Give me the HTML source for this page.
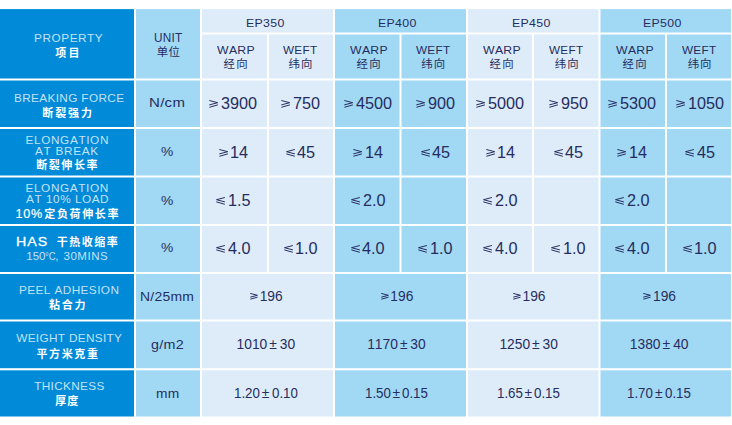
<!DOCTYPE html>
<html><head><meta charset="utf-8"><title>Specification</title>
<style>
html,body{margin:0;padding:0;background:#fff;}
body{width:732px;height:425px;position:relative;overflow:hidden;font-family:"Liberation Sans",sans-serif;color:#262c5e;font-kerning:none;}
.c{position:absolute;}
.a{position:absolute;display:block;}
.t{line-height:20px;height:20px;white-space:pre;transform-origin:0 0;}
.k{font-family:"Liberation Sans","Noto Sans CJK SC",sans-serif;}
.kb{font-family:"Liberation Sans","Noto Sans CJK SC",sans-serif;font-weight:bold;color:#fff;font-size:11px;}
svg{overflow:visible}
</style></head><body>
<svg class="a" style="left:0;top:0" width="732" height="425" viewBox="0 0 732 425"><rect x="0" y="9.1" width="134" height="69.4" fill="#008ad8"/><rect x="136" y="9.1" width="64" height="69.4" fill="#a1d9f5"/><rect x="0" y="80.5" width="134" height="46.5" fill="#008ad8"/><rect x="136" y="80.5" width="64" height="46.5" fill="#a1d9f5"/><rect x="0" y="129" width="134" height="46.5" fill="#008ad8"/><rect x="136" y="129" width="64" height="46.5" fill="#a1d9f5"/><rect x="0" y="177.5" width="134" height="46.5" fill="#008ad8"/><rect x="136" y="177.5" width="64" height="46.5" fill="#a1d9f5"/><rect x="0" y="226" width="134" height="46" fill="#008ad8"/><rect x="136" y="226" width="64" height="46" fill="#a1d9f5"/><rect x="0" y="274" width="134" height="45.5" fill="#008ad8"/><rect x="136" y="274" width="64" height="45.5" fill="#a1d9f5"/><rect x="0" y="321.5" width="134" height="46.7" fill="#008ad8"/><rect x="136" y="321.5" width="64" height="46.7" fill="#a1d9f5"/><rect x="0" y="370.3" width="134" height="46.2" fill="#008ad8"/><rect x="136" y="370.3" width="64" height="46.2" fill="#a1d9f5"/><rect x="202" y="9.1" width="131" height="23.4" fill="#deecfa"/><rect x="202" y="34.5" width="65" height="44" fill="#deecfa"/><rect x="269" y="34.5" width="64" height="44" fill="#deecfa"/><rect x="202" y="80.5" width="65" height="46.5" fill="#deecfa"/><rect x="269" y="80.5" width="64" height="46.5" fill="#deecfa"/><rect x="202" y="129" width="65" height="46.5" fill="#deecfa"/><rect x="269" y="129" width="64" height="46.5" fill="#deecfa"/><rect x="202" y="177.5" width="65" height="46.5" fill="#deecfa"/><rect x="269" y="177.5" width="64" height="46.5" fill="#deecfa"/><rect x="202" y="226" width="65" height="46" fill="#deecfa"/><rect x="269" y="226" width="64" height="46" fill="#deecfa"/><rect x="202" y="274" width="131" height="45.5" fill="#deecfa"/><rect x="202" y="321.5" width="131" height="46.7" fill="#deecfa"/><rect x="202" y="370.3" width="131" height="46.2" fill="#deecfa"/><rect x="335" y="9.1" width="131" height="23.4" fill="#a1d9f5"/><rect x="335" y="34.5" width="64.5" height="44" fill="#a1d9f5"/><rect x="401.5" y="34.5" width="64.5" height="44" fill="#a1d9f5"/><rect x="335" y="80.5" width="64.5" height="46.5" fill="#a1d9f5"/><rect x="401.5" y="80.5" width="64.5" height="46.5" fill="#a1d9f5"/><rect x="335" y="129" width="64.5" height="46.5" fill="#a1d9f5"/><rect x="401.5" y="129" width="64.5" height="46.5" fill="#a1d9f5"/><rect x="335" y="177.5" width="64.5" height="46.5" fill="#a1d9f5"/><rect x="401.5" y="177.5" width="64.5" height="46.5" fill="#a1d9f5"/><rect x="335" y="226" width="64.5" height="46" fill="#a1d9f5"/><rect x="401.5" y="226" width="64.5" height="46" fill="#a1d9f5"/><rect x="335" y="274" width="131" height="45.5" fill="#a1d9f5"/><rect x="335" y="321.5" width="131" height="46.7" fill="#a1d9f5"/><rect x="335" y="370.3" width="131" height="46.2" fill="#a1d9f5"/><rect x="468" y="9.1" width="130.5" height="23.4" fill="#deecfa"/><rect x="468" y="34.5" width="64" height="44" fill="#deecfa"/><rect x="534" y="34.5" width="64.5" height="44" fill="#deecfa"/><rect x="468" y="80.5" width="64" height="46.5" fill="#deecfa"/><rect x="534" y="80.5" width="64.5" height="46.5" fill="#deecfa"/><rect x="468" y="129" width="64" height="46.5" fill="#deecfa"/><rect x="534" y="129" width="64.5" height="46.5" fill="#deecfa"/><rect x="468" y="177.5" width="64" height="46.5" fill="#deecfa"/><rect x="534" y="177.5" width="64.5" height="46.5" fill="#deecfa"/><rect x="468" y="226" width="64" height="46" fill="#deecfa"/><rect x="534" y="226" width="64.5" height="46" fill="#deecfa"/><rect x="468" y="274" width="130.5" height="45.5" fill="#deecfa"/><rect x="468" y="321.5" width="130.5" height="46.7" fill="#deecfa"/><rect x="468" y="370.3" width="130.5" height="46.2" fill="#deecfa"/><rect x="600.5" y="9.1" width="130.5" height="23.4" fill="#a1d9f5"/><rect x="600.5" y="34.5" width="64.5" height="44" fill="#a1d9f5"/><rect x="667" y="34.5" width="64" height="44" fill="#a1d9f5"/><rect x="600.5" y="80.5" width="64.5" height="46.5" fill="#a1d9f5"/><rect x="667" y="80.5" width="64" height="46.5" fill="#a1d9f5"/><rect x="600.5" y="129" width="64.5" height="46.5" fill="#a1d9f5"/><rect x="667" y="129" width="64" height="46.5" fill="#a1d9f5"/><rect x="600.5" y="177.5" width="64.5" height="46.5" fill="#a1d9f5"/><rect x="667" y="177.5" width="64" height="46.5" fill="#a1d9f5"/><rect x="600.5" y="226" width="64.5" height="46" fill="#a1d9f5"/><rect x="667" y="226" width="64" height="46" fill="#a1d9f5"/><rect x="600.5" y="274" width="130.5" height="45.5" fill="#a1d9f5"/><rect x="600.5" y="321.5" width="130.5" height="46.7" fill="#a1d9f5"/><rect x="600.5" y="370.3" width="130.5" height="46.2" fill="#a1d9f5"/></svg>
<svg class="a" style="left:209.30px;top:100.05px" width="9.20" height="7.80" viewBox="0 0 9.2 7.8" fill="none" stroke="#262c5e" stroke-width="1.000" stroke-linejoin="round"><path d="M0.3,0.5 L8.7,2.7 L0.3,4.9 M8.9,4.85 L0.4,7.3"/></svg><span class="a t" id="t0" style="left:221.18px;top:94px;font-size:15.7px;letter-spacing:0.000px;color:#262c5e;transform:scaleX(1.0350)">3900</span><svg class="a" style="left:281.23px;top:100.05px" width="9.20" height="7.80" viewBox="0 0 9.2 7.8" fill="none" stroke="#262c5e" stroke-width="1.000" stroke-linejoin="round"><path d="M0.3,0.5 L8.7,2.7 L0.3,4.9 M8.9,4.85 L0.4,7.3"/></svg><span class="a t" id="t1" style="left:292.90px;top:94px;font-size:15.7px;letter-spacing:0.000px;color:#262c5e;transform:scaleX(1.0350)">750</span><svg class="a" style="left:218.57px;top:149.05px" width="9.20" height="7.80" viewBox="0 0 9.2 7.8" fill="none" stroke="#262c5e" stroke-width="1.000" stroke-linejoin="round"><path d="M0.3,0.5 L8.7,2.7 L0.3,4.9 M8.9,4.85 L0.4,7.3"/></svg><span class="a t" id="t2" style="left:229.83px;top:143px;font-size:15.7px;letter-spacing:0.000px;color:#262c5e;transform:scaleX(1.0350)">14</span><svg class="a" style="left:285.94px;top:149.05px" width="9.20" height="7.80" viewBox="0 0 9.2 7.8" fill="none" stroke="#262c5e" stroke-width="1.000" stroke-linejoin="round"><path d="M8.9,0.5 L0.5,2.7 L8.9,4.9 M0.3,4.85 L8.8,7.3"/></svg><span class="a t" id="t3" style="left:297.27px;top:143px;font-size:15.7px;letter-spacing:0.000px;color:#262c5e;transform:scaleX(1.0350)">45</span><svg class="a" style="left:216.42px;top:197.05px" width="9.20" height="7.80" viewBox="0 0 9.2 7.8" fill="none" stroke="#262c5e" stroke-width="1.000" stroke-linejoin="round"><path d="M8.9,0.5 L0.5,2.7 L8.9,4.9 M0.3,4.85 L8.8,7.3"/></svg><span class="a t" id="t4" style="left:227.68px;top:191px;font-size:15.7px;letter-spacing:0.000px;color:#262c5e;transform:scaleX(1.0350)">1.5</span><svg class="a" style="left:216.36px;top:245.05px" width="9.20" height="7.80" viewBox="0 0 9.2 7.8" fill="none" stroke="#262c5e" stroke-width="1.000" stroke-linejoin="round"><path d="M8.9,0.5 L0.5,2.7 L8.9,4.9 M0.3,4.85 L8.8,7.3"/></svg><span class="a t" id="t5" style="left:227.69px;top:239px;font-size:15.7px;letter-spacing:0.000px;color:#262c5e;transform:scaleX(1.0350)">4.0</span><svg class="a" style="left:283.69px;top:245.05px" width="9.20" height="7.80" viewBox="0 0 9.2 7.8" fill="none" stroke="#262c5e" stroke-width="1.000" stroke-linejoin="round"><path d="M8.9,0.5 L0.5,2.7 L8.9,4.9 M0.3,4.85 L8.8,7.3"/></svg><span class="a t" id="t6" style="left:294.95px;top:239px;font-size:15.7px;letter-spacing:0.000px;color:#262c5e;transform:scaleX(1.0350)">1.0</span><svg class="a" style="left:250.09px;top:293.38px" width="7.84" height="6.64" viewBox="0 0 9.2 7.8" fill="none" stroke="#262c5e" stroke-width="1.174" stroke-linejoin="round"><path d="M0.3,0.5 L8.7,2.7 L0.3,4.9 M8.9,4.85 L0.4,7.3"/></svg><span class="a t" id="t7" style="left:259.69px;top:287px;font-size:13.8px;letter-spacing:0.000px;color:#262c5e;transform:scaleX(1.0000)">196</span><span class="a t" id="t8" style="left:236.60px;top:335px;font-size:13.8px;letter-spacing:0.000px;color:#262c5e">1010</span><span class="a t" id="t9" style="left:269.32px;top:335px;font-size:13.8px;letter-spacing:0.000px;color:#262c5e">±</span><span class="a t" id="t10" style="left:279.74px;top:335px;font-size:13.8px;letter-spacing:-0.000px;color:#262c5e">30</span><span class="a t" id="t11" style="left:234.10px;top:384px;font-size:13.8px;letter-spacing:0.000px;color:#262c5e;transform:scaleX(0.9650)">1.20</span><span class="a t" id="t12" style="left:261.76px;top:384px;font-size:13.8px;letter-spacing:0.000px;color:#262c5e">±</span><span class="a t" id="t13" style="left:271.69px;top:384px;font-size:13.8px;letter-spacing:0.000px;color:#262c5e;transform:scaleX(0.9650)">0.10</span><svg class="a" style="left:344.38px;top:100.05px" width="9.20" height="7.80" viewBox="0 0 9.2 7.8" fill="none" stroke="#262c5e" stroke-width="1.000" stroke-linejoin="round"><path d="M0.3,0.5 L8.7,2.7 L0.3,4.9 M8.9,4.85 L0.4,7.3"/></svg><span class="a t" id="t14" style="left:355.71px;top:94px;font-size:15.7px;letter-spacing:0.000px;color:#262c5e;transform:scaleX(1.0350)">4500</span><svg class="a" style="left:415.99px;top:100.05px" width="9.20" height="7.80" viewBox="0 0 9.2 7.8" fill="none" stroke="#262c5e" stroke-width="1.000" stroke-linejoin="round"><path d="M0.3,0.5 L8.7,2.7 L0.3,4.9 M8.9,4.85 L0.4,7.3"/></svg><span class="a t" id="t15" style="left:427.73px;top:94px;font-size:15.7px;letter-spacing:0.000px;color:#262c5e;transform:scaleX(1.0350)">900</span><svg class="a" style="left:353.37px;top:149.05px" width="9.20" height="7.80" viewBox="0 0 9.2 7.8" fill="none" stroke="#262c5e" stroke-width="1.000" stroke-linejoin="round"><path d="M0.3,0.5 L8.7,2.7 L0.3,4.9 M8.9,4.85 L0.4,7.3"/></svg><span class="a t" id="t16" style="left:364.63px;top:143px;font-size:15.7px;letter-spacing:0.000px;color:#262c5e;transform:scaleX(1.0350)">14</span><svg class="a" style="left:420.74px;top:149.05px" width="9.20" height="7.80" viewBox="0 0 9.2 7.8" fill="none" stroke="#262c5e" stroke-width="1.000" stroke-linejoin="round"><path d="M8.9,0.5 L0.5,2.7 L8.9,4.9 M0.3,4.85 L8.8,7.3"/></svg><span class="a t" id="t17" style="left:432.07px;top:143px;font-size:15.7px;letter-spacing:0.000px;color:#262c5e;transform:scaleX(1.0350)">45</span><svg class="a" style="left:350.98px;top:197.05px" width="9.20" height="7.80" viewBox="0 0 9.2 7.8" fill="none" stroke="#262c5e" stroke-width="1.000" stroke-linejoin="round"><path d="M8.9,0.5 L0.5,2.7 L8.9,4.9 M0.3,4.85 L8.8,7.3"/></svg><span class="a t" id="t18" style="left:362.66px;top:191px;font-size:15.7px;letter-spacing:0.000px;color:#262c5e;transform:scaleX(1.0350)">2.0</span><svg class="a" style="left:351.16px;top:245.05px" width="9.20" height="7.80" viewBox="0 0 9.2 7.8" fill="none" stroke="#262c5e" stroke-width="1.000" stroke-linejoin="round"><path d="M8.9,0.5 L0.5,2.7 L8.9,4.9 M0.3,4.85 L8.8,7.3"/></svg><span class="a t" id="t19" style="left:362.49px;top:239px;font-size:15.7px;letter-spacing:0.000px;color:#262c5e;transform:scaleX(1.0350)">4.0</span><svg class="a" style="left:418.49px;top:245.05px" width="9.20" height="7.80" viewBox="0 0 9.2 7.8" fill="none" stroke="#262c5e" stroke-width="1.000" stroke-linejoin="round"><path d="M8.9,0.5 L0.5,2.7 L8.9,4.9 M0.3,4.85 L8.8,7.3"/></svg><span class="a t" id="t20" style="left:429.75px;top:239px;font-size:15.7px;letter-spacing:0.000px;color:#262c5e;transform:scaleX(1.0350)">1.0</span><svg class="a" style="left:380.69px;top:293.38px" width="7.84" height="6.64" viewBox="0 0 9.2 7.8" fill="none" stroke="#262c5e" stroke-width="1.174" stroke-linejoin="round"><path d="M0.3,0.5 L8.7,2.7 L0.3,4.9 M8.9,4.85 L0.4,7.3"/></svg><span class="a t" id="t21" style="left:390.29px;top:287px;font-size:13.8px;letter-spacing:0.000px;color:#262c5e;transform:scaleX(1.0000)">196</span><span class="a t" id="t22" style="left:367.20px;top:335px;font-size:13.8px;letter-spacing:0.000px;color:#262c5e">1170</span><span class="a t" id="t23" style="left:399.92px;top:335px;font-size:13.8px;letter-spacing:0.000px;color:#262c5e">±</span><span class="a t" id="t24" style="left:410.34px;top:335px;font-size:13.8px;letter-spacing:0.000px;color:#262c5e">30</span><span class="a t" id="t25" style="left:364.72px;top:384px;font-size:13.8px;letter-spacing:0.000px;color:#262c5e;transform:scaleX(0.9650)">1.50</span><span class="a t" id="t26" style="left:392.38px;top:384px;font-size:13.8px;letter-spacing:0.000px;color:#262c5e">±</span><span class="a t" id="t27" style="left:402.30px;top:384px;font-size:13.8px;letter-spacing:0.000px;color:#262c5e;transform:scaleX(0.9650)">0.15</span><svg class="a" style="left:476.42px;top:100.05px" width="9.20" height="7.80" viewBox="0 0 9.2 7.8" fill="none" stroke="#262c5e" stroke-width="1.000" stroke-linejoin="round"><path d="M0.3,0.5 L8.7,2.7 L0.3,4.9 M8.9,4.85 L0.4,7.3"/></svg><span class="a t" id="t28" style="left:488.27px;top:94px;font-size:15.7px;letter-spacing:0.000px;color:#262c5e;transform:scaleX(1.0350)">5000</span><svg class="a" style="left:548.79px;top:100.05px" width="9.20" height="7.80" viewBox="0 0 9.2 7.8" fill="none" stroke="#262c5e" stroke-width="1.000" stroke-linejoin="round"><path d="M0.3,0.5 L8.7,2.7 L0.3,4.9 M8.9,4.85 L0.4,7.3"/></svg><span class="a t" id="t29" style="left:560.53px;top:94px;font-size:15.7px;letter-spacing:0.000px;color:#262c5e;transform:scaleX(1.0350)">950</span><svg class="a" style="left:485.67px;top:149.05px" width="9.20" height="7.80" viewBox="0 0 9.2 7.8" fill="none" stroke="#262c5e" stroke-width="1.000" stroke-linejoin="round"><path d="M0.3,0.5 L8.7,2.7 L0.3,4.9 M8.9,4.85 L0.4,7.3"/></svg><span class="a t" id="t30" style="left:496.93px;top:143px;font-size:15.7px;letter-spacing:0.000px;color:#262c5e;transform:scaleX(1.0350)">14</span><svg class="a" style="left:553.54px;top:149.05px" width="9.20" height="7.80" viewBox="0 0 9.2 7.8" fill="none" stroke="#262c5e" stroke-width="1.000" stroke-linejoin="round"><path d="M8.9,0.5 L0.5,2.7 L8.9,4.9 M0.3,4.85 L8.8,7.3"/></svg><span class="a t" id="t31" style="left:564.87px;top:143px;font-size:15.7px;letter-spacing:0.000px;color:#262c5e;transform:scaleX(1.0350)">45</span><svg class="a" style="left:483.28px;top:197.05px" width="9.20" height="7.80" viewBox="0 0 9.2 7.8" fill="none" stroke="#262c5e" stroke-width="1.000" stroke-linejoin="round"><path d="M8.9,0.5 L0.5,2.7 L8.9,4.9 M0.3,4.85 L8.8,7.3"/></svg><span class="a t" id="t32" style="left:494.96px;top:191px;font-size:15.7px;letter-spacing:0.000px;color:#262c5e;transform:scaleX(1.0350)">2.0</span><svg class="a" style="left:483.46px;top:245.05px" width="9.20" height="7.80" viewBox="0 0 9.2 7.8" fill="none" stroke="#262c5e" stroke-width="1.000" stroke-linejoin="round"><path d="M8.9,0.5 L0.5,2.7 L8.9,4.9 M0.3,4.85 L8.8,7.3"/></svg><span class="a t" id="t33" style="left:494.79px;top:239px;font-size:15.7px;letter-spacing:0.000px;color:#262c5e;transform:scaleX(1.0350)">4.0</span><svg class="a" style="left:551.29px;top:245.05px" width="9.20" height="7.80" viewBox="0 0 9.2 7.8" fill="none" stroke="#262c5e" stroke-width="1.000" stroke-linejoin="round"><path d="M8.9,0.5 L0.5,2.7 L8.9,4.9 M0.3,4.85 L8.8,7.3"/></svg><span class="a t" id="t34" style="left:562.55px;top:239px;font-size:15.7px;letter-spacing:0.000px;color:#262c5e;transform:scaleX(1.0350)">1.0</span><svg class="a" style="left:512.89px;top:293.38px" width="7.84" height="6.64" viewBox="0 0 9.2 7.8" fill="none" stroke="#262c5e" stroke-width="1.174" stroke-linejoin="round"><path d="M0.3,0.5 L8.7,2.7 L0.3,4.9 M8.9,4.85 L0.4,7.3"/></svg><span class="a t" id="t35" style="left:522.49px;top:287px;font-size:13.8px;letter-spacing:0.000px;color:#262c5e;transform:scaleX(1.0000)">196</span><span class="a t" id="t36" style="left:499.40px;top:335px;font-size:13.8px;letter-spacing:0.000px;color:#262c5e">1250</span><span class="a t" id="t37" style="left:532.12px;top:335px;font-size:13.8px;letter-spacing:0.000px;color:#262c5e">±</span><span class="a t" id="t38" style="left:542.54px;top:335px;font-size:13.8px;letter-spacing:0.000px;color:#262c5e">30</span><span class="a t" id="t39" style="left:496.94px;top:384px;font-size:13.8px;letter-spacing:0.000px;color:#262c5e;transform:scaleX(0.9650)">1.65</span><span class="a t" id="t40" style="left:524.56px;top:384px;font-size:13.8px;letter-spacing:0.000px;color:#262c5e">±</span><span class="a t" id="t41" style="left:534.49px;top:384px;font-size:13.8px;letter-spacing:0.000px;color:#262c5e;transform:scaleX(0.9650)">0.15</span><svg class="a" style="left:608.22px;top:100.05px" width="9.20" height="7.80" viewBox="0 0 9.2 7.8" fill="none" stroke="#262c5e" stroke-width="1.000" stroke-linejoin="round"><path d="M0.3,0.5 L8.7,2.7 L0.3,4.9 M8.9,4.85 L0.4,7.3"/></svg><span class="a t" id="t42" style="left:620.07px;top:94px;font-size:15.7px;letter-spacing:0.000px;color:#262c5e;transform:scaleX(1.0350)">5300</span><svg class="a" style="left:676.41px;top:100.05px" width="9.20" height="7.80" viewBox="0 0 9.2 7.8" fill="none" stroke="#262c5e" stroke-width="1.000" stroke-linejoin="round"><path d="M0.3,0.5 L8.7,2.7 L0.3,4.9 M8.9,4.85 L0.4,7.3"/></svg><span class="a t" id="t43" style="left:687.67px;top:94px;font-size:15.7px;letter-spacing:0.000px;color:#262c5e;transform:scaleX(1.0350)">1050</span><svg class="a" style="left:617.47px;top:149.05px" width="9.20" height="7.80" viewBox="0 0 9.2 7.8" fill="none" stroke="#262c5e" stroke-width="1.000" stroke-linejoin="round"><path d="M0.3,0.5 L8.7,2.7 L0.3,4.9 M8.9,4.85 L0.4,7.3"/></svg><span class="a t" id="t44" style="left:628.73px;top:143px;font-size:15.7px;letter-spacing:0.000px;color:#262c5e;transform:scaleX(1.0350)">14</span><svg class="a" style="left:685.44px;top:149.05px" width="9.20" height="7.80" viewBox="0 0 9.2 7.8" fill="none" stroke="#262c5e" stroke-width="1.000" stroke-linejoin="round"><path d="M8.9,0.5 L0.5,2.7 L8.9,4.9 M0.3,4.85 L8.8,7.3"/></svg><span class="a t" id="t45" style="left:696.77px;top:143px;font-size:15.7px;letter-spacing:0.000px;color:#262c5e;transform:scaleX(1.0350)">45</span><svg class="a" style="left:615.08px;top:197.05px" width="9.20" height="7.80" viewBox="0 0 9.2 7.8" fill="none" stroke="#262c5e" stroke-width="1.000" stroke-linejoin="round"><path d="M8.9,0.5 L0.5,2.7 L8.9,4.9 M0.3,4.85 L8.8,7.3"/></svg><span class="a t" id="t46" style="left:626.76px;top:191px;font-size:15.7px;letter-spacing:0.000px;color:#262c5e;transform:scaleX(1.0350)">2.0</span><svg class="a" style="left:615.26px;top:245.05px" width="9.20" height="7.80" viewBox="0 0 9.2 7.8" fill="none" stroke="#262c5e" stroke-width="1.000" stroke-linejoin="round"><path d="M8.9,0.5 L0.5,2.7 L8.9,4.9 M0.3,4.85 L8.8,7.3"/></svg><span class="a t" id="t47" style="left:626.59px;top:239px;font-size:15.7px;letter-spacing:0.000px;color:#262c5e;transform:scaleX(1.0350)">4.0</span><svg class="a" style="left:683.19px;top:245.05px" width="9.20" height="7.80" viewBox="0 0 9.2 7.8" fill="none" stroke="#262c5e" stroke-width="1.000" stroke-linejoin="round"><path d="M8.9,0.5 L0.5,2.7 L8.9,4.9 M0.3,4.85 L8.8,7.3"/></svg><span class="a t" id="t48" style="left:694.45px;top:239px;font-size:15.7px;letter-spacing:0.000px;color:#262c5e;transform:scaleX(1.0350)">1.0</span><svg class="a" style="left:643.39px;top:293.38px" width="7.84" height="6.64" viewBox="0 0 9.2 7.8" fill="none" stroke="#262c5e" stroke-width="1.174" stroke-linejoin="round"><path d="M0.3,0.5 L8.7,2.7 L0.3,4.9 M8.9,4.85 L0.4,7.3"/></svg><span class="a t" id="t49" style="left:652.99px;top:287px;font-size:13.8px;letter-spacing:0.000px;color:#262c5e;transform:scaleX(1.0000)">196</span><span class="a t" id="t50" style="left:629.79px;top:335px;font-size:13.8px;letter-spacing:0.000px;color:#262c5e">1380</span><span class="a t" id="t51" style="left:662.52px;top:335px;font-size:13.8px;letter-spacing:0.000px;color:#262c5e">±</span><span class="a t" id="t52" style="left:673.14px;top:335px;font-size:13.8px;letter-spacing:0.000px;color:#262c5e">40</span><span class="a t" id="t53" style="left:627.42px;top:384px;font-size:13.8px;letter-spacing:0.000px;color:#262c5e;transform:scaleX(0.9650)">1.70</span><span class="a t" id="t54" style="left:655.08px;top:384px;font-size:13.8px;letter-spacing:0.000px;color:#262c5e">±</span><span class="a t" id="t55" style="left:665.00px;top:384px;font-size:13.8px;letter-spacing:0.000px;color:#262c5e;transform:scaleX(0.9650)">0.15</span><span class="a t" id="t56" style="left:149.47px;top:93px;font-size:13.2px;letter-spacing:0.250px;color:#262c5e;transform:scaleX(1.1388)">N/cm</span><span class="a t" id="t57" style="left:161.11px;top:142px;font-size:13.2px;letter-spacing:0.000px;color:#262c5e;transform:scaleX(1.0467)">%</span><span class="a t" id="t58" style="left:161.11px;top:191px;font-size:13.2px;letter-spacing:0.000px;color:#262c5e;transform:scaleX(1.0467)">%</span><span class="a t" id="t59" style="left:161.11px;top:238px;font-size:13.2px;letter-spacing:0.000px;color:#262c5e;transform:scaleX(1.0467)">%</span><span class="a t" id="t60" style="left:140.16px;top:287px;font-size:13.2px;letter-spacing:0.250px;color:#262c5e;transform:scaleX(1.0555)">N/25mm</span><span class="a t" id="t61" style="left:151.00px;top:335px;font-size:13.2px;letter-spacing:0.250px;color:#262c5e;transform:scaleX(1.0839)">g/m2</span><span class="a t" id="t62" style="left:155.88px;top:384px;font-size:13.2px;letter-spacing:0.250px;color:#262c5e;transform:scaleX(1.0442)">mm</span><span class="a t" id="t63" style="left:153.59px;top:28px;font-size:12.6px;letter-spacing:0.300px;color:#262c5e;transform:scaleX(0.9334)">UNIT</span><span class="a t k" style="left:156.82px;top:41.90px;font-size:11.4px;letter-spacing:0.30px;color:#262c5e">单位</span><span class="a t" id="t64" style="left:246.49px;top:13px;font-size:11.8px;letter-spacing:0.300px;color:#262c5e;transform:scaleX(1.0455)">EP350</span><span class="a t" id="t65" style="left:216.85px;top:40px;font-size:11.8px;letter-spacing:0.300px;color:#262c5e;transform:scaleX(1.0386)">WARP</span><span class="a t" id="t66" style="left:282.65px;top:40px;font-size:11.8px;letter-spacing:0.300px;color:#262c5e;transform:scaleX(0.9941)">WEFT</span><span class="a t k" style="left:223.60px;top:54.09px;font-size:11.4px;letter-spacing:1.31px;color:#262c5e">经向</span><span class="a t k" style="left:288.45px;top:54.09px;font-size:11.4px;letter-spacing:1.07px;color:#262c5e">纬向</span><span class="a t" id="t67" style="left:378.49px;top:13px;font-size:11.8px;letter-spacing:0.300px;color:#262c5e;transform:scaleX(1.0455)">EP400</span><span class="a t" id="t68" style="left:349.85px;top:40px;font-size:11.8px;letter-spacing:0.300px;color:#262c5e;transform:scaleX(1.0386)">WARP</span><span class="a t" id="t69" style="left:415.55px;top:40px;font-size:11.8px;letter-spacing:0.300px;color:#262c5e;transform:scaleX(0.9941)">WEFT</span><span class="a t k" style="left:356.60px;top:54.09px;font-size:11.4px;letter-spacing:1.31px;color:#262c5e">经向</span><span class="a t k" style="left:421.35px;top:54.09px;font-size:11.4px;letter-spacing:1.07px;color:#262c5e">纬向</span><span class="a t" id="t70" style="left:511.59px;top:13px;font-size:11.8px;letter-spacing:0.300px;color:#262c5e;transform:scaleX(1.0455)">EP450</span><span class="a t" id="t71" style="left:482.70px;top:40px;font-size:11.8px;letter-spacing:0.300px;color:#262c5e;transform:scaleX(1.0386)">WARP</span><span class="a t" id="t72" style="left:549.05px;top:40px;font-size:11.8px;letter-spacing:0.300px;color:#262c5e;transform:scaleX(0.9941)">WEFT</span><span class="a t k" style="left:489.45px;top:54.09px;font-size:11.4px;letter-spacing:1.31px;color:#262c5e">经向</span><span class="a t k" style="left:554.85px;top:54.09px;font-size:11.4px;letter-spacing:1.07px;color:#262c5e">纬向</span><span class="a t" id="t73" style="left:643.34px;top:13px;font-size:11.8px;letter-spacing:0.300px;color:#262c5e;transform:scaleX(1.0455)">EP500</span><span class="a t" id="t74" style="left:615.85px;top:40px;font-size:11.8px;letter-spacing:0.300px;color:#262c5e;transform:scaleX(1.0386)">WARP</span><span class="a t" id="t75" style="left:681.85px;top:40px;font-size:11.8px;letter-spacing:0.300px;color:#262c5e;transform:scaleX(0.9941)">WEFT</span><span class="a t k" style="left:622.60px;top:54.09px;font-size:11.4px;letter-spacing:1.31px;color:#262c5e">经向</span><span class="a t k" style="left:687.65px;top:54.09px;font-size:11.4px;letter-spacing:1.07px;color:#262c5e">纬向</span><span class="a t" id="t76" style="left:34.03px;top:28px;font-size:11.8px;letter-spacing:0.545px;color:#c4e2f6">PROPERTY</span><span class="a t kb" style="left:55.29px;top:43.14px;letter-spacing:2.31px">项目</span><span class="a t" id="t77" style="left:13.93px;top:88px;font-size:11.8px;letter-spacing:0.355px;color:#c4e2f6">BREAKING FORCE</span><span class="a t kb" style="left:42.35px;top:102.50px;letter-spacing:1.86px">断裂强力</span><span class="a t" id="t78" style="left:25.53px;top:130px;font-size:11.8px;letter-spacing:0.618px;color:#c4e2f6">ELONGATION</span><span class="a t" id="t79" style="left:34.98px;top:141px;font-size:11.8px;letter-spacing:0.685px;color:#c4e2f6">AT BREAK</span><span class="a t kb" style="left:36.25px;top:155.36px;letter-spacing:1.55px">断裂伸长率</span><span class="a t" id="t80" style="left:25.43px;top:178px;font-size:11.8px;letter-spacing:0.618px;color:#c4e2f6">ELONGATION</span><span class="a t" id="t81" style="left:26.08px;top:189px;font-size:11.8px;letter-spacing:0.520px;color:#c4e2f6">AT 10% LOAD</span><span class="a t" id="t82" style="left:15.39px;top:204px;font-size:12.6px;letter-spacing:0.820px;color:#fff;-webkit-text-stroke:0.2px #fff">10%</span><span class="a t kb" style="left:44.31px;top:203.62px;letter-spacing:1.63px">定负荷伸长率</span><span class="a t" id="t83" style="left:15.53px;top:232px;font-size:13.2px;letter-spacing:0.900px;color:#fff;-webkit-text-stroke:0.3px #fff;transform:scaleX(1.0788)">HAS</span><span class="a t kb" style="left:56.76px;top:231.59px;letter-spacing:1.53px">干热收缩率</span><span class="a t" id="t84" style="left:26.32px;top:246px;font-size:11.5px;letter-spacing:-0.081px;color:#c4e2f6">150</span><span class="a t" id="t85" style="left:45.03px;top:246px;font-size:11.5px;letter-spacing:0.000px;color:#c4e2f6;transform:scaleX(0.8319)">°C</span><span class="a t" id="t86" style="left:55.17px;top:246px;font-size:11.5px;letter-spacing:0.000px;color:#c4e2f6">,</span><span class="a t" id="t87" style="left:63.46px;top:246px;font-size:11.5px;letter-spacing:0.545px;color:#c4e2f6">30MINS</span><span class="a t" id="t88" style="left:19.03px;top:280px;font-size:11.8px;letter-spacing:0.404px;color:#c4e2f6">PEEL ADHESION</span><span class="a t kb" style="left:49.04px;top:294.61px;letter-spacing:1.68px">粘合力</span><span class="a t" id="t89" style="left:16.20px;top:328px;font-size:11.8px;letter-spacing:0.323px;color:#c4e2f6">WEIGHT DENSITY</span><span class="a t kb" style="left:36.49px;top:343.82px;letter-spacing:1.62px">平方米克重</span><span class="a t" id="t90" style="left:34.23px;top:376px;font-size:11.8px;letter-spacing:0.315px;color:#c4e2f6">THICKNESS</span><span class="a t kb" style="left:55.27px;top:390.66px;letter-spacing:1.03px">厚度</span>
</body></html>
